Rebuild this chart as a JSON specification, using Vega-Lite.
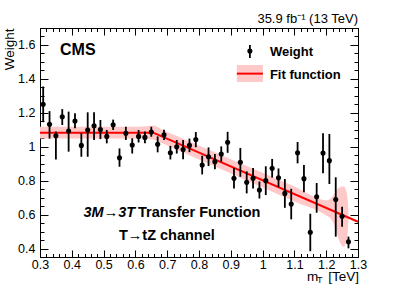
{
  "$schema": "https://vega.github.io/schema/vega-lite/v6.json",
  "width": 318,
  "height": 229,
  "autosize": {"type": "none"},
  "padding": {"left": 40, "top": 28, "right": 41, "bottom": 29},
  "config": {
    "view": {"stroke": "black", "strokeWidth": 1},
    "font": "Liberation Sans",
    "axis": {
      "grid": false, "domainColor": "black", "domainWidth": 1, "tickColor": "black", "tickWidth": 1,
      "labelColor": "black", "labelFont": "Liberation Sans", "labelFontSize": 12.5,
      "labelOverlap": false, "labelFlush": false,
      "titleFont": "Liberation Sans", "titleFontWeight": "normal", "titleColor": "black", "titleFontSize": 13.5
    }
  },
  "title": {"text": "35.9 fb⁻¹ (13 TeV)", "anchor": "end", "frame": "group", "fontSize": 13, "fontWeight": "normal", "font": "Liberation Sans", "offset": -4, "color": "black"},
  "resolve": {"axis": {"x": "independent", "y": "independent"}},
  "datasets": {
    "pts": [
      {"mt": 0.31, "w": 1.25, "lo": 1.145, "hi": 1.355},
      {"mt": 0.33, "w": 1.132, "lo": 1.048, "hi": 1.21},
      {"mt": 0.35, "w": 1.065, "lo": 0.925, "hi": 1.09},
      {"mt": 0.37, "w": 1.177, "lo": 1.128, "hi": 1.222},
      {"mt": 0.39, "w": 1.093, "lo": 0.971, "hi": 1.207},
      {"mt": 0.41, "w": 1.152, "lo": 1.109, "hi": 1.197},
      {"mt": 0.43, "w": 1.008, "lo": 0.941, "hi": 1.079},
      {"mt": 0.45, "w": 1.099, "lo": 0.941, "hi": 1.203},
      {"mt": 0.47, "w": 1.124, "lo": 1.04, "hi": 1.203},
      {"mt": 0.49, "w": 1.101, "lo": 1.045, "hi": 1.158},
      {"mt": 0.51, "w": 1.061, "lo": 1.02, "hi": 1.099},
      {"mt": 0.53, "w": 1.13, "lo": 1.099, "hi": 1.16},
      {"mt": 0.55, "w": 0.935, "lo": 0.882, "hi": 0.99},
      {"mt": 0.57, "w": 1.079, "lo": 1.04, "hi": 1.118},
      {"mt": 0.59, "w": 1.01, "lo": 0.96, "hi": 1.05},
      {"mt": 0.61, "w": 1.061, "lo": 1.025, "hi": 1.099},
      {"mt": 0.63, "w": 1.055, "lo": 1.02, "hi": 1.09},
      {"mt": 0.65, "w": 1.087, "lo": 1.059, "hi": 1.118},
      {"mt": 0.67, "w": 1.014, "lo": 0.967, "hi": 1.061},
      {"mt": 0.69, "w": 1.071, "lo": 1.04, "hi": 1.1},
      {"mt": 0.71, "w": 0.965, "lo": 0.925, "hi": 1.005},
      {"mt": 0.73, "w": 1.0, "lo": 0.96, "hi": 1.04},
      {"mt": 0.75, "w": 0.983, "lo": 0.926, "hi": 1.04},
      {"mt": 0.77, "w": 1.008, "lo": 0.968, "hi": 1.048},
      {"mt": 0.79, "w": 1.042, "lo": 0.997, "hi": 1.087},
      {"mt": 0.81, "w": 0.892, "lo": 0.837, "hi": 0.947},
      {"mt": 0.83, "w": 0.941, "lo": 0.886, "hi": 0.996},
      {"mt": 0.85, "w": 0.912, "lo": 0.867, "hi": 0.957},
      {"mt": 0.87, "w": 0.957, "lo": 0.912, "hi": 1.002},
      {"mt": 0.89, "w": 1.026, "lo": 0.964, "hi": 1.088},
      {"mt": 0.91, "w": 0.814, "lo": 0.754, "hi": 0.874},
      {"mt": 0.93, "w": 0.908, "lo": 0.823, "hi": 0.993},
      {"mt": 0.95, "w": 0.79, "lo": 0.725, "hi": 0.855},
      {"mt": 0.97, "w": 0.814, "lo": 0.754, "hi": 0.874},
      {"mt": 0.99, "w": 0.745, "lo": 0.695, "hi": 0.795},
      {"mt": 1.01, "w": 0.8, "lo": 0.715, "hi": 0.885},
      {"mt": 1.03, "w": 0.873, "lo": 0.818, "hi": 0.928},
      {"mt": 1.05, "w": 0.817, "lo": 0.762, "hi": 0.872},
      {"mt": 1.07, "w": 0.725, "lo": 0.64, "hi": 0.81},
      {"mt": 1.09, "w": 0.662, "lo": 0.572, "hi": 0.752},
      {"mt": 1.11, "w": 0.965, "lo": 0.902, "hi": 1.028},
      {"mt": 1.13, "w": 0.812, "lo": 0.732, "hi": 0.892},
      {"mt": 1.15, "w": 0.496, "lo": 0.384, "hi": 0.605},
      {"mt": 1.17, "w": 0.705, "lo": 0.611, "hi": 0.786},
      {"mt": 1.19, "w": 0.963, "lo": 0.843, "hi": 1.08},
      {"mt": 1.21, "w": 0.918, "lo": 0.78, "hi": 1.075},
      {"mt": 1.23, "w": 0.689, "lo": 0.47, "hi": 0.82},
      {"mt": 1.25, "w": 0.59, "lo": 0.528, "hi": 0.646},
      {"mt": 1.27, "w": 0.44, "lo": 0.401, "hi": 0.47}
    ],
    "band": [
      {"bx": 0.3, "blo": 1.048, "bhi": 1.118},
      {"bx": 0.6, "blo": 1.048, "bhi": 1.118},
      {"bx": 0.64, "blo": 1.045, "bhi": 1.122},
      {"bx": 0.66, "blo": 1.04, "bhi": 1.125},
      {"bx": 0.68, "blo": 1.023, "bhi": 1.104},
      {"bx": 0.7, "blo": 1.007, "bhi": 1.087},
      {"bx": 0.8, "blo": 0.925, "bhi": 1.007},
      {"bx": 0.9, "blo": 0.842, "bhi": 0.926},
      {"bx": 1.0, "blo": 0.76, "bhi": 0.846},
      {"bx": 1.1, "blo": 0.677, "bhi": 0.765},
      {"bx": 1.2, "blo": 0.595, "bhi": 0.685},
      {"bx": 1.215, "blo": 0.575, "bhi": 0.697},
      {"bx": 1.225, "blo": 0.54, "bhi": 0.72},
      {"bx": 1.235, "blo": 0.48, "bhi": 0.75},
      {"bx": 1.245, "blo": 0.43, "bhi": 0.763},
      {"bx": 1.255, "blo": 0.41, "bhi": 0.765},
      {"bx": 1.262, "blo": 0.43, "bhi": 0.745},
      {"bx": 1.267, "blo": 0.48, "bhi": 0.7},
      {"bx": 1.27, "blo": 0.56, "bhi": 0.62}
    ],
    "fit": [
      {"fx": 0.3, "fy": 1.083},
      {"fx": 0.656, "fy": 1.083},
      {"fx": 1.3, "fy": 0.558}
    ],
    "one": [{"k": 1}]
  },
  "layer": [
    {
      "data": {"name": "band"},
      "mark": {"type": "area", "color": "#ffc9c9", "opacity": 1, "interpolate": "monotone"},
      "encoding": {
        "x": {"field": "bx", "type": "quantitative", "scale": {"domain": [0.3, 1.3]},
          "axis": {"orient": "bottom", "title": null,
            "values": [0.3,0.32,0.34,0.36,0.38,0.4,0.42,0.44,0.46,0.48,0.5,0.52,0.54,0.56,0.58,0.6,0.62,0.64,0.66,0.68,0.7,0.72,0.74,0.76,0.78,0.8,0.82,0.84,0.86,0.88,0.9,0.92,0.94,0.96,0.98,1,1.02,1.04,1.06,1.08,1.1,1.12,1.14,1.16,1.18,1.2,1.22,1.24,1.26,1.28,1.3],
            "tickSize": {"condition": {"test": "abs(datum.value*10-round(datum.value*10))<0.001", "value": -7}, "value": -3.5},
            "labelExpr": "abs(datum.value*10-round(datum.value*10))<0.001 ? format(datum.value, '~g') : ''",
            "labelPadding": 8}},
        "y": {"field": "blo", "type": "quantitative", "scale": {"domain": [0.35, 1.7]},
          "axis": {"orient": "left", "title": "Weight", "titleAnchor": "end", "titlePadding": 1,
            "values": [0.35,0.4,0.45,0.5,0.55,0.6,0.65,0.7,0.75,0.8,0.85,0.9,0.95,1,1.05,1.1,1.15,1.2,1.25,1.3,1.35,1.4,1.45,1.5,1.55,1.6,1.65,1.7],
            "tickSize": {"condition": {"test": "abs(datum.value*5-round(datum.value*5))<0.001", "value": -8}, "value": -4},
            "labelExpr": "abs(datum.value*5-round(datum.value*5))<0.001 ? format(datum.value, '~g') : ''",
            "labelPadding": 13}},
        "y2": {"field": "bhi"}
      }
    },
    {
      "data": {"name": "fit"},
      "mark": {"type": "line", "color": "#ff0000", "strokeWidth": 2},
      "encoding": {
        "x": {"field": "fx", "type": "quantitative", "scale": {"domain": [0.3, 1.3]},
          "axis": {"orient": "top", "title": null, "labels": false,
            "values": [0.3,0.32,0.34,0.36,0.38,0.4,0.42,0.44,0.46,0.48,0.5,0.52,0.54,0.56,0.58,0.6,0.62,0.64,0.66,0.68,0.7,0.72,0.74,0.76,0.78,0.8,0.82,0.84,0.86,0.88,0.9,0.92,0.94,0.96,0.98,1,1.02,1.04,1.06,1.08,1.1,1.12,1.14,1.16,1.18,1.2,1.22,1.24,1.26,1.28,1.3],
            "tickSize": {"condition": {"test": "abs(datum.value*10-round(datum.value*10))<0.001", "value": -7}, "value": -3.5}}},
        "y": {"field": "fy", "type": "quantitative", "scale": {"domain": [0.35, 1.7]},
          "axis": {"orient": "right", "title": null, "labels": false,
            "values": [0.35,0.4,0.45,0.5,0.55,0.6,0.65,0.7,0.75,0.8,0.85,0.9,0.95,1,1.05,1.1,1.15,1.2,1.25,1.3,1.35,1.4,1.45,1.5,1.55,1.6,1.65,1.7],
            "tickSize": {"condition": {"test": "abs(datum.value*5-round(datum.value*5))<0.001", "value": -8}, "value": -4}}}
      }
    },
    {
      "data": {"name": "pts"},
      "mark": {"type": "rule", "color": "black", "strokeWidth": 1.8},
      "encoding": {
        "x": {"field": "mt", "type": "quantitative", "scale": {"domain": [0.3, 1.3]}, "axis": null},
        "y": {"field": "lo", "type": "quantitative", "scale": {"domain": [0.35, 1.7]}, "axis": null},
        "y2": {"field": "hi"}
      }
    },
    {
      "data": {"name": "pts"},
      "mark": {"type": "point", "shape": "circle", "filled": true, "color": "black", "opacity": 1, "size": 26},
      "encoding": {
        "x": {"field": "mt", "type": "quantitative", "scale": {"domain": [0.3, 1.3]}, "axis": null},
        "y": {"field": "w", "type": "quantitative", "scale": {"domain": [0.35, 1.7]}, "axis": null}
      }
    },
    {
      "data": {"name": "one"},
      "mark": {"type": "rect", "color": "#ffc9c9"},
      "encoding": {
        "x": {"datum": 0.919, "type": "quantitative", "scale": {"domain": [0.3, 1.3]}, "axis": null},
        "x2": {"datum": 1.001},
        "y": {"datum": 1.382, "type": "quantitative", "scale": {"domain": [0.35, 1.7]}, "axis": null},
        "y2": {"datum": 1.482}
      }
    },
    {
      "data": {"name": "one"},
      "mark": {"type": "rule", "color": "#ff0000", "strokeWidth": 2},
      "encoding": {
        "x": {"datum": 0.919, "type": "quantitative", "scale": {"domain": [0.3, 1.3]}, "axis": null},
        "x2": {"datum": 1.001},
        "y": {"datum": 1.431, "type": "quantitative", "scale": {"domain": [0.35, 1.7]}, "axis": null}
      }
    },
    {
      "data": {"name": "one"},
      "mark": {"type": "rule", "color": "black", "strokeWidth": 1.8},
      "encoding": {
        "x": {"datum": 0.96, "type": "quantitative", "scale": {"domain": [0.3, 1.3]}, "axis": null},
        "y": {"datum": 1.523, "type": "quantitative", "scale": {"domain": [0.35, 1.7]}, "axis": null},
        "y2": {"datum": 1.6}
      }
    },
    {
      "data": {"name": "one"},
      "mark": {"type": "point", "shape": "circle", "filled": true, "color": "black", "opacity": 1, "size": 26},
      "encoding": {
        "x": {"datum": 0.96, "type": "quantitative", "scale": {"domain": [0.3, 1.3]}, "axis": null},
        "y": {"datum": 1.564, "type": "quantitative", "scale": {"domain": [0.35, 1.7]}, "axis": null}
      }
    },
    {
      "data": {"values": [{"t": "Weight"}]},
      "mark": {"type": "text", "align": "left", "baseline": "alphabetic", "font": "Liberation Sans", "fontWeight": "bold", "fontSize": 13, "color": "black"},
      "encoding": {
        "x": {"datum": 1.023, "type": "quantitative", "scale": {"domain": [0.3, 1.3]}, "axis": null},
        "y": {"datum": 1.535, "type": "quantitative", "scale": {"domain": [0.35, 1.7]}, "axis": null},
        "text": {"field": "t"}
      }
    },
    {
      "data": {"values": [{"t": "Fit function"}]},
      "mark": {"type": "text", "align": "left", "baseline": "alphabetic", "font": "Liberation Sans", "fontWeight": "bold", "fontSize": 13, "color": "black"},
      "encoding": {
        "x": {"datum": 1.023, "type": "quantitative", "scale": {"domain": [0.3, 1.3]}, "axis": null},
        "y": {"datum": 1.398, "type": "quantitative", "scale": {"domain": [0.35, 1.7]}, "axis": null},
        "text": {"field": "t"}
      }
    },
    {
      "data": {"values": [{"t": "CMS"}]},
      "mark": {"type": "text", "align": "left", "baseline": "alphabetic", "font": "Liberation Sans", "fontWeight": "bold", "fontSize": 16, "color": "black"},
      "encoding": {
        "x": {"datum": 0.363, "type": "quantitative", "scale": {"domain": [0.3, 1.3]}, "axis": null},
        "y": {"datum": 1.541, "type": "quantitative", "scale": {"domain": [0.35, 1.7]}, "axis": null},
        "text": {"field": "t"}
      }
    },
    {
      "data": {"values": [{"t": "3M→3T"}]},
      "mark": {"type": "text", "align": "right", "baseline": "alphabetic", "font": "Liberation Sans", "fontWeight": "bold", "fontStyle": "italic", "fontSize": 14.5, "color": "black"},
      "encoding": {
        "x": {"datum": 0.599, "type": "quantitative", "scale": {"domain": [0.3, 1.3]}, "axis": null},
        "y": {"datum": 0.584, "type": "quantitative", "scale": {"domain": [0.35, 1.7]}, "axis": null},
        "text": {"field": "t"}
      }
    },
    {
      "data": {"values": [{"t": "Transfer Function"}]},
      "mark": {"type": "text", "align": "left", "baseline": "alphabetic", "font": "Liberation Sans", "fontWeight": "bold", "fontSize": 14.5, "color": "black"},
      "encoding": {
        "x": {"datum": 0.608, "type": "quantitative", "scale": {"domain": [0.3, 1.3]}, "axis": null},
        "y": {"datum": 0.584, "type": "quantitative", "scale": {"domain": [0.35, 1.7]}, "axis": null},
        "text": {"field": "t"}
      }
    },
    {
      "data": {"values": [{"t": "T→tZ channel"}]},
      "mark": {"type": "text", "align": "center", "baseline": "alphabetic", "font": "Liberation Sans", "fontWeight": "bold", "fontSize": 14.5, "color": "black"},
      "encoding": {
        "x": {"datum": 0.699, "type": "quantitative", "scale": {"domain": [0.3, 1.3]}, "axis": null},
        "y": {"datum": 0.45, "type": "quantitative", "scale": {"domain": [0.35, 1.7]}, "axis": null},
        "text": {"field": "t"}
      }
    },
    {
      "data": {"values": [{"t": "[TeV]"}]},
      "mark": {"type": "text", "align": "right", "baseline": "alphabetic", "font": "Liberation Sans", "fontSize": 13.5, "color": "black"},
      "encoding": {
        "x": {"datum": 1.303, "type": "quantitative", "scale": {"domain": [0.3, 1.3]}, "axis": null},
        "y": {"datum": 0.206, "type": "quantitative", "scale": {"domain": [0.35, 1.7]}, "axis": null},
        "text": {"field": "t"}
      }
    },
    {
      "data": {"values": [{"t": "T"}]},
      "mark": {"type": "text", "align": "left", "baseline": "alphabetic", "font": "Liberation Sans", "fontSize": 9, "color": "black"},
      "encoding": {
        "x": {"datum": 1.171, "type": "quantitative", "scale": {"domain": [0.3, 1.3]}, "axis": null},
        "y": {"datum": 0.196, "type": "quantitative", "scale": {"domain": [0.35, 1.7]}, "axis": null},
        "text": {"field": "t"}
      }
    },
    {
      "data": {"values": [{"t": "m"}]},
      "mark": {"type": "text", "align": "left", "baseline": "alphabetic", "font": "Liberation Sans", "fontSize": 13.5, "color": "black"},
      "encoding": {
        "x": {"datum": 1.14, "type": "quantitative", "scale": {"domain": [0.3, 1.3]}, "axis": null},
        "y": {"datum": 0.206, "type": "quantitative", "scale": {"domain": [0.35, 1.7]}, "axis": null},
        "text": {"field": "t"}
      }
    }
  ]
}
